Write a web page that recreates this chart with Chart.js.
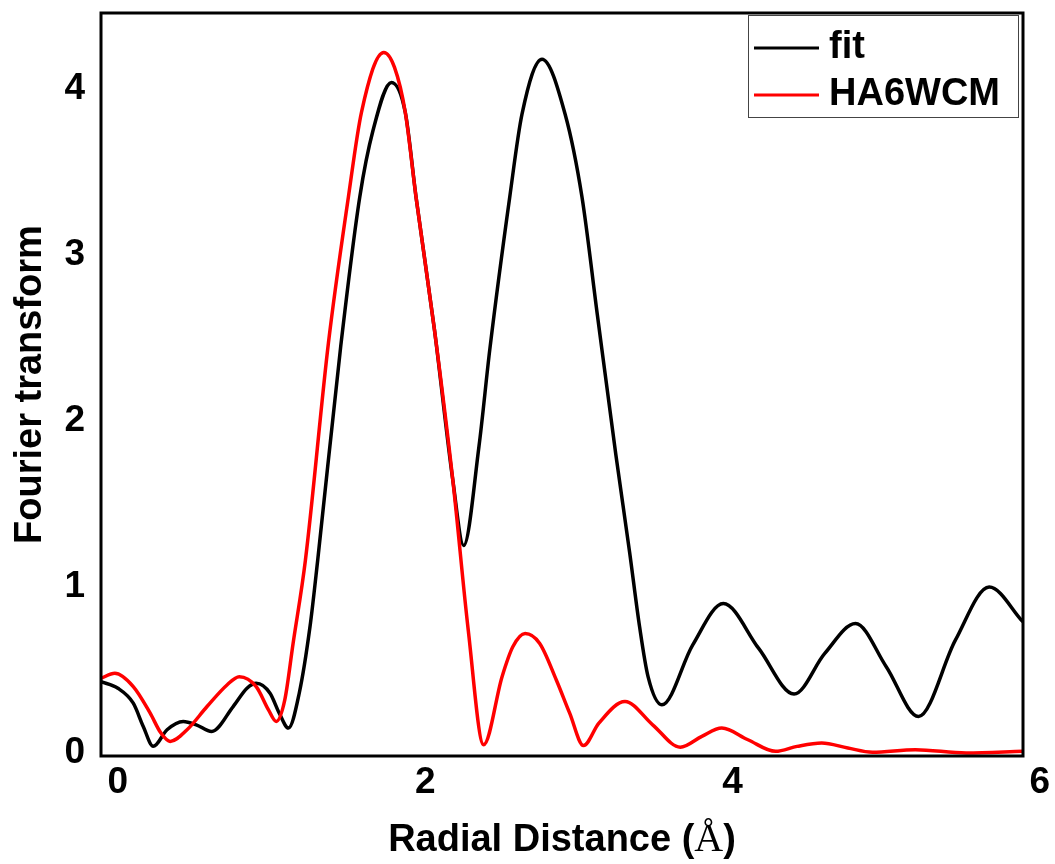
<!DOCTYPE html>
<html>
<head>
<meta charset="utf-8">
<script src="https://cdn.jsdelivr.net/npm/chart.js@4.4.0/dist/chart.umd.min.js"></script>
<style>
  html, body { margin: 0; padding: 0; background: #fff; }
  #wrap { width: 1055px; height: 864px; }
</style>
</head>
<body>
<div id="wrap"><canvas id="myChart"></canvas></div>
<script>
// Radial distance (Å) and FT magnitude
const fitR = [-0.11, 0.0, 0.1, 0.165, 0.23, 0.32, 0.425, 0.51, 0.61, 0.75, 0.84, 0.90, 0.99, 1.05, 1.11,
  1.18, 1.25, 1.30, 1.45, 1.574, 1.66, 1.78, 1.87, 1.94, 2.06, 2.18, 2.25, 2.35, 2.42, 2.55, 2.63,
  2.76, 2.91, 3.02, 3.12, 3.24, 3.33, 3.395, 3.45, 3.54, 3.74, 3.94, 4.17, 4.40, 4.60, 4.80, 5.0,
  5.21, 5.45, 5.67, 5.89];
const fitValues = [0.43, 0.39, 0.30, 0.16, 0.04, 0.14, 0.19, 0.17, 0.13, 0.28, 0.39, 0.42, 0.36, 0.24, 0.15,
  0.36, 0.76, 1.16, 2.45, 3.35, 3.75, 4.04, 3.86, 3.35, 2.55, 1.64, 1.25, 1.85, 2.43, 3.35, 3.85,
  4.18, 3.85, 3.35, 2.64, 1.80, 1.21, 0.76, 0.46, 0.29, 0.65, 0.90, 0.63, 0.355, 0.60, 0.78, 0.52,
  0.22, 0.68, 1.0, 0.79];

const sampleR = [-0.11, -0.02, 0.10, 0.21, 0.28, 0.34, 0.45, 0.58, 0.71, 0.79, 0.90, 0.98, 1.03,
  1.086, 1.14, 1.22, 1.37, 1.50, 1.585, 1.73, 1.80, 1.87, 1.94, 2.06, 2.18, 2.28, 2.38, 2.50,
  2.57, 2.65, 2.745, 2.853, 2.94, 3.03, 3.13, 3.30, 3.48, 3.66, 3.80, 3.93, 4.10, 4.28, 4.42,
  4.58, 4.75, 4.91, 5.19, 5.52, 5.89];
const sampleValues = [0.45, 0.48, 0.40, 0.24, 0.12, 0.07, 0.14, 0.28, 0.41, 0.46, 0.40, 0.26, 0.19,
  0.32, 0.66, 1.16, 2.47, 3.35, 3.86, 4.22, 4.13, 3.86, 3.35, 2.55, 1.64, 0.74, 0.05, 0.46,
  0.64, 0.72, 0.66, 0.44, 0.24, 0.045, 0.18, 0.31, 0.17, 0.035, 0.10, 0.15, 0.08, 0.01, 0.04,
  0.06, 0.03, 0.005, 0.02, 0.0, 0.01];

const xTicks = [0, 2, 4, 6];
const yTicks = [0, 1, 2, 3, 4];

const fontFam = '"Liberation Sans", Arial, sans-serif';

function toPoints(xs, ys) {
  return xs.map((x, i) => ({ x: x, y: ys[i] }));
}

// black frame round the plot area
const framePlugin = {
  id: 'frame',
  afterDatasetsDraw(chart) {
    const a = chart.chartArea;
    const ctx = chart.ctx;
    ctx.save();
    ctx.strokeStyle = '#000';
    ctx.lineWidth = 3;
    ctx.strokeRect(a.left, a.top, a.right - a.left, a.bottom - a.top);
    ctx.restore();
  }
};

// x title: sans bold text with a serif Å, as in the original
const xTitle = {
  id: 'xTitle',
  afterDraw(chart) {
    const ctx = chart.ctx;
    const a = chart.chartArea;
    const parts = [
      ['Radial Distance (', 'bold 38px ' + fontFam],
      ['Å', '40px "Liberation Serif", "Times New Roman", serif'],
      [')', 'bold 38px ' + fontFam]
    ];
    ctx.save();
    let total = 0;
    parts.forEach(p => { ctx.font = p[1]; total += ctx.measureText(p[0]).width; });
    let x = (a.left + a.right) / 2 - total / 2;
    ctx.fillStyle = '#000';
    ctx.textBaseline = 'alphabetic';
    parts.forEach(p => {
      ctx.font = p[1];
      ctx.fillText(p[0], x, 851);
      x += ctx.measureText(p[0]).width;
    });
    ctx.restore();
  }
};

// legend box inside the top right corner
const boxLegend = {
  id: 'boxLegend',
  afterDraw(chart) {
    const ctx = chart.ctx;
    const a = chart.chartArea;
    const x0 = a.right - 275, y0 = a.top + 2, w = 270, h = 102;
    ctx.save();
    ctx.fillStyle = '#fff';
    ctx.fillRect(x0, y0, w, h);
    ctx.strokeStyle = '#444';
    ctx.lineWidth = 1;
    ctx.strokeRect(x0 + 0.5, y0 + 0.5, w, h);
    const rows = [33, 80];
    chart.data.datasets.forEach((ds, i) => {
      const y = y0 + rows[i];
      ctx.strokeStyle = ds.borderColor;
      ctx.lineWidth = 3;
      ctx.beginPath();
      ctx.moveTo(x0 + 6, y);
      ctx.lineTo(x0 + 71, y);
      ctx.stroke();
      ctx.fillStyle = '#000';
      ctx.font = 'bold 38px ' + fontFam;
      ctx.textBaseline = 'middle';
      ctx.fillText(ds.label, x0 + 81, y);
    });
    ctx.restore();
  }
};

const ctx = document.getElementById('myChart').getContext('2d');
new Chart(ctx, {
  type: 'line',
  data: {
    datasets: [
      {
        label: 'fit',
        data: toPoints(fitR, fitValues),
        borderColor: '#000000',
        borderWidth: 3.5,
        pointRadius: 0,
        cubicInterpolationMode: 'monotone',
        order: 1
      },
      {
        label: 'HA6WCM',
        data: toPoints(sampleR, sampleValues),
        borderColor: '#ff0000',
        borderWidth: 3.5,
        pointRadius: 0,
        cubicInterpolationMode: 'monotone',
        order: 0
      }
    ]
  },
  options: {
    responsive: true,
    maintainAspectRatio: false,
    animation: false,
    layout: { padding: { left: 0, right: 32, top: 13, bottom: 0 } },
    plugins: {
      legend: { display: false },
      tooltip: { enabled: false }
    },
    scales: {
      x: {
        type: 'linear',
        min: -0.11,
        max: 5.89,
        grid: { display: false, drawTicks: false },
        border: { display: false },
        afterBuildTicks: (scale) => { scale.ticks = xTicks.map(v => ({ value: v })); },
        afterFit: (scale) => { scale.height = 108; scale.paddingLeft = 0; scale.paddingRight = 0; },
        ticks: {
          color: '#000',
          padding: 5,
          maxRotation: 0,
          autoSkip: false,
          font: { family: fontFam, size: 37, weight: 'bold' }
        },
        title: { display: false }
      },
      y: {
        min: -0.018,
        max: 4.458,
        grid: { display: false, drawTicks: false },
        border: { display: false },
        afterBuildTicks: (scale) => { scale.ticks = yTicks.map(v => ({ value: v })); },
        afterFit: (scale) => { scale.width = 101; scale.paddingTop = 0; scale.paddingBottom = 0; },
        ticks: {
          color: '#000',
          padding: 16,
          font: { family: fontFam, size: 37, weight: 'bold' }
        },
        title: {
          display: true,
          text: 'Fourier transform',
          color: '#000',
          padding: { top: 8, bottom: 0 },
          font: { family: fontFam, size: 38, weight: 'bold' }
        }
      }
    }
  },
  plugins: [framePlugin, xTitle, boxLegend]
});
</script>
</body>
</html>
